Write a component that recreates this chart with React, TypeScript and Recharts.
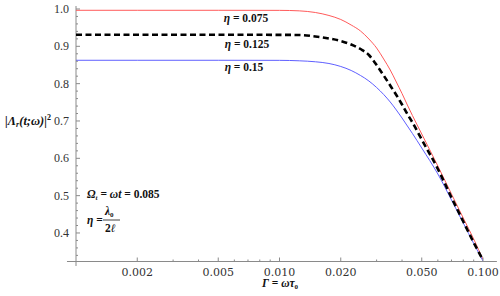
import React from 'react';
import { LineChart, Line, XAxis, YAxis, ReferenceLine } from 'recharts';

const gammaValues = [0.001, 0.002, 0.005, 0.01, 0.0125, 0.015, 0.0175, 0.02, 0.0225, 0.025, 0.0275, 0.03, 0.0325, 0.035, 0.0375, 0.04, 0.0425, 0.045, 0.05, 0.06, 0.07, 0.08, 0.09, 0.1];
const eta075 = [0.9965, 0.9965, 0.9965, 0.9963, 0.995, 0.9906, 0.9826, 0.9719, 0.9571, 0.9411, 0.9196, 0.8955, 0.8661, 0.8366, 0.8044, 0.7736, 0.7428, 0.7147, 0.6651, 0.5794, 0.5044, 0.4401, 0.3838, 0.329];
const eta125 = [0.931, 0.931, 0.931, 0.9307, 0.9304, 0.9263, 0.921, 0.9143, 0.9049, 0.8928, 0.8768, 0.85, 0.8219, 0.7951, 0.7696, 0.7442, 0.7187, 0.696, 0.6504, 0.5714, 0.495, 0.4307, 0.3745, 0.3276];
const eta15 = [0.8626, 0.8626, 0.8626, 0.8624, 0.8612, 0.8586, 0.854, 0.846, 0.8353, 0.8219, 0.8071, 0.7897, 0.771, 0.7509, 0.7295, 0.708, 0.6866, 0.6665, 0.6276, 0.558, 0.4884, 0.4268, 0.3719, 0.3249];

const xMajorTicks = [0.002, 0.005, 0.01, 0.02, 0.05, 0.1];
const xMinorTicks = [0.003, 0.004, 0.006, 0.007, 0.008, 0.009, 0.03, 0.04, 0.06, 0.07, 0.08, 0.09];
const yMajorTicks = [0.4, 0.5, 0.6, 0.7, 0.8, 0.9, 1.0];
const yMinorTicks = [0.34, 0.36, 0.38, 0.42, 0.44, 0.46, 0.48, 0.52, 0.54, 0.56, 0.58, 0.62, 0.64, 0.66, 0.68, 0.72, 0.74, 0.76, 0.78, 0.82, 0.84, 0.86, 0.88, 0.92, 0.94, 0.96, 0.98];

const X_DOMAIN: [number, number] = [0.001, 0.1];
const Y_DOMAIN: [number, number] = [0.3236, 1.008];

const data = gammaValues.map((g, i) => ({ g, a: eta075[i], b: eta125[i], c: eta15[i] }));

const serifA = 'DejaVu Serif';
const serifB = 'Liberation Serif';
const serifC = 'Times New Roman';
const axisColor = '#8a8a8a';
const tickText = '#333';

const isMajor = (v: number, list: number[]) => list.some((m) => Math.abs(m - v) < 1e-9);

const YTick = (props: any) => {
  const { x, y, payload } = props;
  const major = isMajor(payload.value, yMajorTicks);
  return (
    <g>
      <line x1={x} x2={x + (major ? 4 : 2)} y1={y} y2={y} stroke={axisColor} strokeWidth={1} />
      {major && (
        <text x={x - 7} y={y} dy={4} textAnchor="end" fontFamily={serifB} fontSize={12} fill={tickText}>
          {payload.value.toFixed(1)}
        </text>
      )}
    </g>
  );
};

const XTick = (props: any) => {
  const { x, y, payload } = props;
  const major = isMajor(payload.value, xMajorTicks);
  return (
    <g>
      <line x1={x} x2={x} y1={y} y2={y - (major ? 4 : 2)} stroke={axisColor} strokeWidth={1} />
      {major && (
        <text x={x} y={y + 14} textAnchor="middle" fontFamily={serifA} fontSize={11} fill={tickText}>
          {payload.value.toFixed(3)}
        </text>
      )}
    </g>
  );
};

export default function App() {
  return (
    <div style={{ position: 'absolute', left: 0, top: 0, width: 500, height: 296, background: '#fff' }}>
      <LineChart width={500} height={296} data={data} margin={{ top: 6, right: 17, bottom: 0, left: 0 }}>
        <XAxis
          dataKey="g"
          type="number"
          scale="log"
          domain={X_DOMAIN}
          allowDataOverflow
          ticks={[...xMajorTicks, ...xMinorTicks].sort((p, q) => p - q)}
          tick={<XTick />}
          tickSize={0}
          tickMargin={0}
          axisLine={false}
          tickLine={false}
          height={34.5}
          interval={0}
        />
        <YAxis
          type="number"
          domain={Y_DOMAIN}
          allowDataOverflow
          ticks={[...yMajorTicks, ...yMinorTicks].sort((p, q) => p - q)}
          tick={<YTick />}
          tickSize={0}
          tickMargin={0}
          axisLine={false}
          tickLine={false}
          width={76}
          interval={0}
        />
        <ReferenceLine
          segment={[{ x: 0.000903, y: Y_DOMAIN[0] }, { x: 0.117, y: Y_DOMAIN[0] }]}
          stroke={axisColor}
          strokeWidth={1}
          ifOverflow="visible"
        />
        <ReferenceLine
          segment={[{ x: X_DOMAIN[0], y: 0.3116 }, { x: X_DOMAIN[0], y: Y_DOMAIN[1] }]}
          stroke={axisColor}
          strokeWidth={1}
          ifOverflow="visible"
        />
        <Line type="monotone" dataKey="a" stroke="#ff5a5a" strokeWidth={1} dot={false} isAnimationActive={false} />
        <Line type="monotone" dataKey="c" stroke="#5f5fff" strokeWidth={1} dot={false} isAnimationActive={false} />
        <Line type="monotone" dataKey="b" stroke="#000" strokeWidth={2.6} strokeDasharray="6 3.5" dot={false} isAnimationActive={false} />
      </LineChart>
      <svg width={500} height={296} style={{ position: 'absolute', left: 0, top: 0, pointerEvents: 'none' }}>
        <g fontFamily={serifC} fontWeight="bold" fontSize={11.5} fill="#111">
          <text x={246} y={22} textAnchor="middle">
            <tspan fontStyle="italic">η</tspan> = 0.075
          </text>
          <text x={247} y={48} textAnchor="middle">
            <tspan fontStyle="italic">η</tspan> = 0.125
          </text>
          <text x={244} y={71} textAnchor="middle">
            <tspan fontStyle="italic">η</tspan> = 0.15
          </text>
          <text x={5} y={125} fontStyle="italic" fontSize={12.5}>
            |Λ<tspan fontSize={8} dy={2}>r</tspan>
            <tspan dy={-2}>(t;ω)|</tspan>
            <tspan fontSize={8} dy={-5} fontStyle="normal">2</tspan>
          </text>
          <text x={87} y={198}>
            <tspan fontStyle="italic">Ω</tspan>
            <tspan fontStyle="italic" fontSize={7} dy={2}>t</tspan>
            <tspan dy={-2}> = </tspan>
            <tspan fontStyle="italic">ωt</tspan>
            <tspan> = 0.085</tspan>
          </text>
          <text x={87} y={224}>
            <tspan fontStyle="italic">η</tspan> =
          </text>
          <text x={105} y={215} fontStyle="italic">
            λ<tspan fontSize={7} dy={2} fontStyle="normal">0</tspan>
          </text>
          <line x1={103} x2={120} y1={220} y2={220} stroke="#111" strokeWidth={0.8} />
          <text x={105} y={232} fontStyle="italic">
            <tspan fontStyle="normal">2</tspan>ℓ
          </text>
          <text x={262} y={287} fontStyle="italic">
            Γ<tspan fontStyle="normal"> = </tspan>ωτ<tspan fontSize={7} dy={2} fontStyle="normal">0</tspan>
          </text>
        </g>
      </svg>
    </div>
  );
}
